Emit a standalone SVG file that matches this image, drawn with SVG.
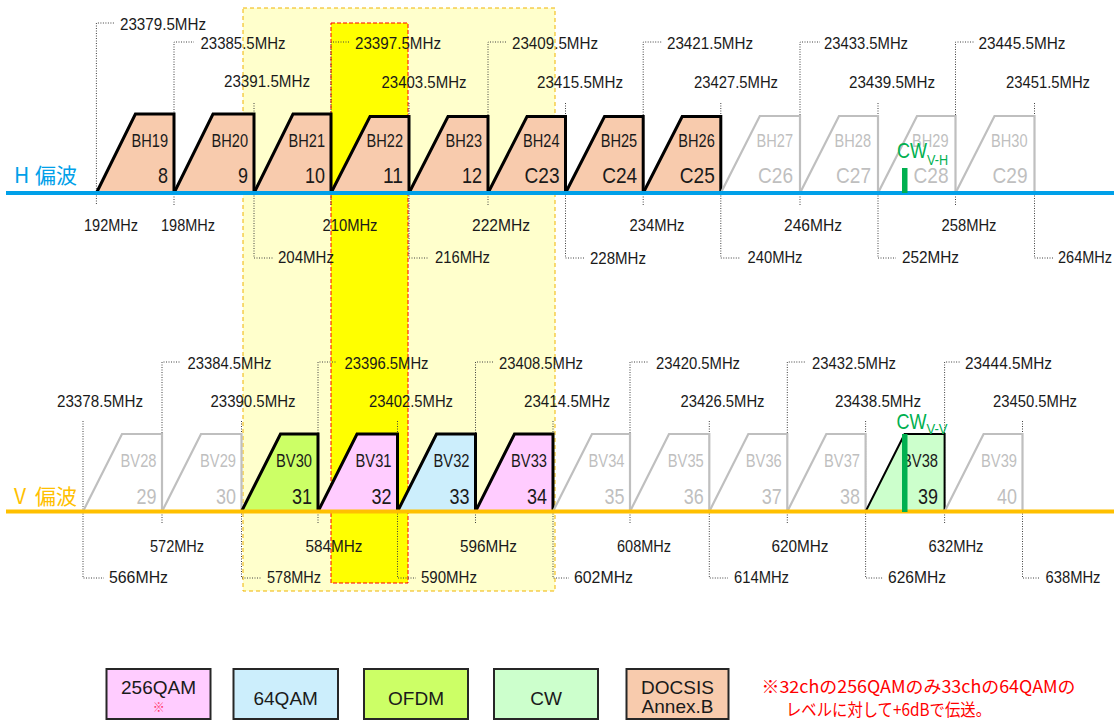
<svg xmlns="http://www.w3.org/2000/svg" width="1120" height="722" viewBox="0 0 1120 722">
<style>
  .n { font-family: "Liberation Sans", Arial, sans-serif; }
  .fq { font-size: 16px; fill: #1a1a1a; }
  .m { text-anchor: middle; }
  .ch { font-size: 18px; fill: #1a1a1a; text-anchor: end; }
  .num { font-size: 22px; fill: #1a1a1a; text-anchor: end; }
  .gy { fill: #bfbfbf; }
  .ld { stroke: #404040; stroke-width: 1; stroke-dasharray: 1 1.5; fill: none; }
  .tb { stroke: #000; stroke-width: 3; stroke-linejoin: miter; }
  .tg { stroke: #bfbfbf; stroke-width: 2.2; fill: #fff; stroke-linejoin: miter; }
  .peach { fill: #f8cbad; }
  .pink { fill: #ffccff; }
  .blue { fill: #cceefc; }
  .ofdm { fill: #ccff66; }
  .cwf { fill: #ccffcc; }
  .cw { font-family: "Liberation Sans", Arial, sans-serif; font-size: 22px; fill: #00b050; }
  .pol { font-family: "Noto Sans CJK JP", sans-serif; font-size: 21px; }
  .lg rect { stroke: #262626; stroke-width: 2; }
  .lt { font-family: "Liberation Sans", Arial, sans-serif; font-size: 19px; fill: #1a1a1a; text-anchor: middle; }
  .note { font-family: "Noto Sans CJK JP", sans-serif; font-size: 17px; fill: #ff0000; }
</style>

<g id="zones">
  <rect x="243" y="8" width="312" height="583" fill="#ffffcc" stroke="#f0b400" stroke-width="1" stroke-dasharray="4 3"/>
  <rect x="331" y="23" width="77" height="560" fill="#ffff00" stroke="#ff0000" stroke-width="1" stroke-dasharray="4 2"/>
</g>

<g id="connectors">
  <path class="ld" d="M96.4 204 V23 H114"/>
  <path class="ld" d="M174 205 V42 H194"/>
  <path class="ld" d="M254 103 V258 H273"/>
  <path class="ld" d="M331 205 V42 H350"/>
  <path class="ld" d="M409 103 V258 H429"/>
  <path class="ld" d="M488 205 V42 H507"/>
  <path class="ld" d="M565.5 103 V258 H585"/>
  <path class="ld" d="M643.2 205 V42 H662"/>
  <path class="ld" d="M720.8 103 V258 H740"/>
  <path class="ld" d="M800 205 V42 H820"/>
  <path class="ld" d="M878 103 V258 H896"/>
  <path class="ld" d="M955.5 205 V42 H974"/>
  <path class="ld" d="M1034.5 103 V258 H1053"/>
  <path class="ld" d="M83 421 V578 H104"/>
  <path class="ld" d="M162 523 V362 H180"/>
  <path class="ld" d="M241.5 421 V578 H262"/>
  <path class="ld" d="M318 523 V362 H337"/>
  <path class="ld" d="M397.5 421 V578 H416"/>
  <path class="ld" d="M475.5 523 V362 H493"/>
  <path class="ld" d="M553 421 V578 H569"/>
  <path class="ld" d="M630 523 V362 H649"/>
  <path class="ld" d="M709.3 421 V578 H728"/>
  <path class="ld" d="M787.3 523 V362 H805"/>
  <path class="ld" d="M865.6 421 V578 H883"/>
  <path class="ld" d="M944.6 523 V362 H960"/>
  <path class="ld" d="M1022.5 421 V578 H1040"/>
</g>

<g id="h-channels" class="n">
  <g id="BH19"><path class="tb peach" d="M96.4 193 L135.4 114 L174 114 L174 193"/><text class="ch" x="168" y="146.5" textLength="36.5" lengthAdjust="spacingAndGlyphs">BH19</text><text class="num" x="168" y="183" textLength="10" lengthAdjust="spacingAndGlyphs">8</text></g>
  <g id="BH20"><path class="tb peach" d="M174 193 L213 114 L254 114 L254 193"/><text class="ch" x="248" y="146.5" textLength="36.5" lengthAdjust="spacingAndGlyphs">BH20</text><text class="num" x="248" y="183" textLength="10" lengthAdjust="spacingAndGlyphs">9</text></g>
  <g id="BH21"><path class="tb peach" d="M254 193 L293 114 L331 114 L331 193"/><text class="ch" x="325" y="146.5" textLength="36.5" lengthAdjust="spacingAndGlyphs">BH21</text><text class="num" x="325" y="183" textLength="20" lengthAdjust="spacingAndGlyphs">10</text></g>
  <g id="BH22"><path class="tb peach" d="M331 193 L370 116.5 L409 116.5 L409 193"/><text class="ch" x="403" y="146.5" textLength="36.5" lengthAdjust="spacingAndGlyphs">BH22</text><text class="num" x="403" y="183" textLength="20" lengthAdjust="spacingAndGlyphs">11</text></g>
  <g id="BH23"><path class="tb peach" d="M409 193 L448 116.5 L488 116.5 L488 193"/><text class="ch" x="482" y="146.5" textLength="36.5" lengthAdjust="spacingAndGlyphs">BH23</text><text class="num" x="482" y="183" textLength="20" lengthAdjust="spacingAndGlyphs">12</text></g>
  <g id="BH24"><path class="tb peach" d="M488 193 L527 116.5 L565.5 116.5 L565.5 193"/><text class="ch" x="559.5" y="146.5" textLength="36.5" lengthAdjust="spacingAndGlyphs">BH24</text><text class="num" x="559.5" y="183" textLength="35" lengthAdjust="spacingAndGlyphs">C23</text></g>
  <g id="BH25"><path class="tb peach" d="M565.5 193 L604.5 116.5 L643.2 116.5 L643.2 193"/><text class="ch" x="637.2" y="146.5" textLength="36.5" lengthAdjust="spacingAndGlyphs">BH25</text><text class="num" x="637.2" y="183" textLength="35" lengthAdjust="spacingAndGlyphs">C24</text></g>
  <g id="BH26"><path class="tb peach" d="M643.2 193 L682.2 116.5 L720.8 116.5 L720.8 193"/><text class="ch" x="714.8" y="146.5" textLength="36.5" lengthAdjust="spacingAndGlyphs">BH26</text><text class="num" x="714.8" y="183" textLength="35" lengthAdjust="spacingAndGlyphs">C25</text></g>
  <g id="BH27"><path class="tg" d="M720.8 193 L759.8 116 L800 116 L800 193"/><text class="ch gy" x="793" y="146.5" textLength="36.5" lengthAdjust="spacingAndGlyphs">BH27</text><text class="num gy" x="793" y="183" textLength="35" lengthAdjust="spacingAndGlyphs">C26</text></g>
  <g id="BH28"><path class="tg" d="M800 193 L839 116 L878 116 L878 193"/><text class="ch gy" x="871" y="146.5" textLength="36.5" lengthAdjust="spacingAndGlyphs">BH28</text><text class="num gy" x="871" y="183" textLength="35" lengthAdjust="spacingAndGlyphs">C27</text></g>
  <g id="BH29"><path class="tg" d="M878 193 L917 116 L955.5 116 L955.5 193"/><text class="ch gy" x="948.5" y="146.5" textLength="36.5" lengthAdjust="spacingAndGlyphs">BH29</text><text class="num gy" x="948.5" y="183" textLength="35" lengthAdjust="spacingAndGlyphs">C28</text></g>
  <g id="BH30"><path class="tg" d="M955.5 193 L994.5 116 L1034.5 116 L1034.5 193"/><text class="ch gy" x="1027.5" y="146.5" textLength="36.5" lengthAdjust="spacingAndGlyphs">BH30</text><text class="num gy" x="1027.5" y="183" textLength="35" lengthAdjust="spacingAndGlyphs">C29</text></g>
</g>

<g id="v-channels" class="n">
  <g id="BV28"><path class="tg" d="M83 511.5 L122 434 L162 434 L162 511.5"/><text class="ch gy" x="156.5" y="466.5" textLength="36" lengthAdjust="spacingAndGlyphs">BV28</text><text class="num gy" x="156.5" y="504" textLength="20" lengthAdjust="spacingAndGlyphs">29</text></g>
  <g id="BV29"><path class="tg" d="M162 511.5 L201 434 L241.5 434 L241.5 511.5"/><text class="ch gy" x="236" y="466.5" textLength="36" lengthAdjust="spacingAndGlyphs">BV29</text><text class="num gy" x="236" y="504" textLength="20" lengthAdjust="spacingAndGlyphs">30</text></g>
  <g id="BV30"><path class="tb ofdm" d="M241.5 511.5 L280.5 434 L318 434 L318 511.5"/><text class="ch" x="312" y="466.5" textLength="36" lengthAdjust="spacingAndGlyphs">BV30</text><text class="num" x="312" y="504" textLength="20" lengthAdjust="spacingAndGlyphs">31</text></g>
  <g id="BV31"><path class="tb pink" d="M318 511.5 L357 434 L397.5 434 L397.5 511.5"/><text class="ch" x="391.5" y="466.5" textLength="36" lengthAdjust="spacingAndGlyphs">BV31</text><text class="num" x="391.5" y="504" textLength="20" lengthAdjust="spacingAndGlyphs">32</text></g>
  <g id="BV32"><path class="tb blue" d="M397.5 511.5 L436.5 434 L475.5 434 L475.5 511.5"/><text class="ch" x="469.5" y="466.5" textLength="36" lengthAdjust="spacingAndGlyphs">BV32</text><text class="num" x="469.5" y="504" textLength="20" lengthAdjust="spacingAndGlyphs">33</text></g>
  <g id="BV33"><path class="tb pink" d="M475.5 511.5 L514.5 434 L553 434 L553 511.5"/><text class="ch" x="547" y="466.5" textLength="36" lengthAdjust="spacingAndGlyphs">BV33</text><text class="num" x="547" y="504" textLength="20" lengthAdjust="spacingAndGlyphs">34</text></g>
  <g id="BV34"><path class="tg" d="M553 511.5 L592 434 L630 434 L630 511.5"/><text class="ch gy" x="624.5" y="466.5" textLength="36" lengthAdjust="spacingAndGlyphs">BV34</text><text class="num gy" x="624.5" y="504" textLength="20" lengthAdjust="spacingAndGlyphs">35</text></g>
  <g id="BV35"><path class="tg" d="M630 511.5 L669 434 L709.3 434 L709.3 511.5"/><text class="ch gy" x="703.8" y="466.5" textLength="36" lengthAdjust="spacingAndGlyphs">BV35</text><text class="num gy" x="703.8" y="504" textLength="20" lengthAdjust="spacingAndGlyphs">36</text></g>
  <g id="BV36"><path class="tg" d="M709.3 511.5 L748.3 434 L787.3 434 L787.3 511.5"/><text class="ch gy" x="781.8" y="466.5" textLength="36" lengthAdjust="spacingAndGlyphs">BV36</text><text class="num gy" x="781.8" y="504" textLength="20" lengthAdjust="spacingAndGlyphs">37</text></g>
  <g id="BV37"><path class="tg" d="M787.3 511.5 L826.3 434 L865.6 434 L865.6 511.5"/><text class="ch gy" x="860" y="466.5" textLength="36" lengthAdjust="spacingAndGlyphs">BV37</text><text class="num gy" x="860" y="504" textLength="20" lengthAdjust="spacingAndGlyphs">38</text></g>
  <g id="BV38"><path class="cwf" stroke="#000" stroke-width="2" d="M865.6 511.5 L904.6 434 L944.6 434 L944.6 511.5"/><text class="ch" x="938" y="466.5" textLength="36" lengthAdjust="spacingAndGlyphs">BV38</text><text class="num" x="938" y="504" textLength="20" lengthAdjust="spacingAndGlyphs">39</text></g>
  <g id="BV39"><path class="tg" d="M944.6 511.5 L983.6 434 L1022.5 434 L1022.5 511.5"/><text class="ch gy" x="1017" y="466.5" textLength="36" lengthAdjust="spacingAndGlyphs">BV39</text><text class="num gy" x="1017" y="504" textLength="20" lengthAdjust="spacingAndGlyphs">40</text></g>
</g>

<g id="h-axis">
  <line x1="6" y1="193" x2="1114" y2="193" stroke="#00a0e9" stroke-width="4"/>
  <text class="pol" x="14 35 56" y="183" fill="#00a0e9">H偏波</text>
</g>
<g id="v-axis">
  <line x1="6" y1="511.5" x2="1114" y2="511.5" stroke="#ffc000" stroke-width="4"/>
  <text class="pol" x="14 35 56" y="504" fill="#ffc000">V偏波</text>
</g>

<g id="cw-h">
  <rect x="902" y="168" width="5.5" height="25" fill="#00b050"/>
  <text class="cw" x="897" y="158"><tspan textLength="30" lengthAdjust="spacingAndGlyphs">CW</tspan><tspan font-size="15" dy="7" textLength="21" lengthAdjust="spacingAndGlyphs">V-H</tspan></text>
</g>
<g id="cw-v">
  <rect x="902" y="434" width="5.5" height="78" fill="#00b050"/>
  <text class="cw" x="896.5" y="429"><tspan textLength="30" lengthAdjust="spacingAndGlyphs">CW</tspan><tspan font-size="15" dy="5" textLength="21" lengthAdjust="spacingAndGlyphs">V-V</tspan></text>
</g>

<g id="h-freq" class="n fq">
  <text x="120" y="30" textLength="86" lengthAdjust="spacingAndGlyphs">23379.5MHz</text>
  <text x="200.5" y="49" textLength="85" lengthAdjust="spacingAndGlyphs">23385.5MHz</text>
  <text class="m" x="267" y="87" textLength="86" lengthAdjust="spacingAndGlyphs">23391.5MHz</text>
  <text x="355" y="49" textLength="86" lengthAdjust="spacingAndGlyphs">23397.5MHz</text>
  <text class="m" x="424" y="88" textLength="85" lengthAdjust="spacingAndGlyphs">23403.5MHz</text>
  <text x="512" y="49" textLength="86" lengthAdjust="spacingAndGlyphs">23409.5MHz</text>
  <text class="m" x="580" y="88" textLength="86" lengthAdjust="spacingAndGlyphs">23415.5MHz</text>
  <text x="667" y="49" textLength="86" lengthAdjust="spacingAndGlyphs">23421.5MHz</text>
  <text class="m" x="736" y="88" textLength="84" lengthAdjust="spacingAndGlyphs">23427.5MHz</text>
  <text x="824" y="49" textLength="84" lengthAdjust="spacingAndGlyphs">23433.5MHz</text>
  <text class="m" x="892" y="88" textLength="86" lengthAdjust="spacingAndGlyphs">23439.5MHz</text>
  <text x="978.5" y="49" textLength="87" lengthAdjust="spacingAndGlyphs">23445.5MHz</text>
  <text class="m" x="1048" y="88" textLength="84" lengthAdjust="spacingAndGlyphs">23451.5MHz</text>

  <text class="m" x="111" y="231" textLength="54" lengthAdjust="spacingAndGlyphs">192MHz</text>
  <text class="m" x="188" y="231" textLength="54" lengthAdjust="spacingAndGlyphs">198MHz</text>
  <text x="278" y="263" textLength="56" lengthAdjust="spacingAndGlyphs">204MHz</text>
  <text class="m" x="350" y="231" textLength="55" lengthAdjust="spacingAndGlyphs">210MHz</text>
  <text x="435" y="263" textLength="55" lengthAdjust="spacingAndGlyphs">216MHz</text>
  <text class="m" x="501" y="231" textLength="58" lengthAdjust="spacingAndGlyphs">222MHz</text>
  <text x="590" y="264" textLength="56" lengthAdjust="spacingAndGlyphs">228MHz</text>
  <text class="m" x="657" y="231" textLength="55" lengthAdjust="spacingAndGlyphs">234MHz</text>
  <text x="747.5" y="263" textLength="55" lengthAdjust="spacingAndGlyphs">240MHz</text>
  <text class="m" x="813" y="231" textLength="58" lengthAdjust="spacingAndGlyphs">246MHz</text>
  <text x="902" y="263" textLength="57" lengthAdjust="spacingAndGlyphs">252MHz</text>
  <text class="m" x="969" y="231" textLength="55" lengthAdjust="spacingAndGlyphs">258MHz</text>
  <text x="1058" y="263" textLength="54" lengthAdjust="spacingAndGlyphs">264MHz</text>
</g>

<g id="v-freq" class="n fq">
  <text class="m" x="100" y="407" textLength="86" lengthAdjust="spacingAndGlyphs">23378.5MHz</text>
  <text x="187.5" y="369" textLength="84" lengthAdjust="spacingAndGlyphs">23384.5MHz</text>
  <text class="m" x="253" y="407" textLength="85" lengthAdjust="spacingAndGlyphs">23390.5MHz</text>
  <text x="344.5" y="369" textLength="84" lengthAdjust="spacingAndGlyphs">23396.5MHz</text>
  <text class="m" x="411" y="407" textLength="84" lengthAdjust="spacingAndGlyphs">23402.5MHz</text>
  <text x="499" y="369" textLength="84" lengthAdjust="spacingAndGlyphs">23408.5MHz</text>
  <text class="m" x="567" y="407" textLength="86" lengthAdjust="spacingAndGlyphs">23414.5MHz</text>
  <text x="656" y="369" textLength="84" lengthAdjust="spacingAndGlyphs">23420.5MHz</text>
  <text class="m" x="722.5" y="407" textLength="84" lengthAdjust="spacingAndGlyphs">23426.5MHz</text>
  <text x="812" y="369" textLength="84" lengthAdjust="spacingAndGlyphs">23432.5MHz</text>
  <text class="m" x="878" y="407" textLength="86" lengthAdjust="spacingAndGlyphs">23438.5MHz</text>
  <text x="965" y="369" textLength="87" lengthAdjust="spacingAndGlyphs">23444.5MHz</text>
  <text class="m" x="1035" y="407" textLength="84" lengthAdjust="spacingAndGlyphs">23450.5MHz</text>

  <text x="109" y="583" textLength="59" lengthAdjust="spacingAndGlyphs">566MHz</text>
  <text class="m" x="177" y="552" textLength="54" lengthAdjust="spacingAndGlyphs">572MHz</text>
  <text x="267" y="583" textLength="54" lengthAdjust="spacingAndGlyphs">578MHz</text>
  <text class="m" x="334" y="552" textLength="57" lengthAdjust="spacingAndGlyphs">584MHz</text>
  <text x="421" y="583" textLength="56" lengthAdjust="spacingAndGlyphs">590MHz</text>
  <text class="m" x="488.5" y="552" textLength="57" lengthAdjust="spacingAndGlyphs">596MHz</text>
  <text x="574" y="583" textLength="59" lengthAdjust="spacingAndGlyphs">602MHz</text>
  <text class="m" x="644" y="552" textLength="54" lengthAdjust="spacingAndGlyphs">608MHz</text>
  <text x="734" y="583" textLength="55" lengthAdjust="spacingAndGlyphs">614MHz</text>
  <text class="m" x="800" y="552" textLength="57" lengthAdjust="spacingAndGlyphs">620MHz</text>
  <text x="888" y="583" textLength="58" lengthAdjust="spacingAndGlyphs">626MHz</text>
  <text class="m" x="956" y="552" textLength="55" lengthAdjust="spacingAndGlyphs">632MHz</text>
  <text x="1045.5" y="583" textLength="55" lengthAdjust="spacingAndGlyphs">638MHz</text>
</g>

<g id="legend" class="lg">
  <g id="lg-256qam"><rect x="106.5" y="669" width="104" height="50" class="pink"/><text class="lt" x="158.5" y="693.5">256QAM</text><text x="158.7" y="712" font-family="Noto Sans CJK JP, sans-serif" font-size="12" fill="#ff3366" text-anchor="middle">※</text></g>
  <g id="lg-64qam"><rect x="233.5" y="669" width="104.5" height="50" class="blue"/><text class="lt" x="285.7" y="704.5">64QAM</text></g>
  <g id="lg-ofdm"><rect x="364" y="669" width="104" height="50" class="ofdm"/><text class="lt" x="416" y="704.5">OFDM</text></g>
  <g id="lg-cw"><rect x="494" y="669" width="104" height="50" class="cwf"/><text class="lt" x="546" y="704.5">CW</text></g>
  <g id="lg-docsis"><rect x="626.5" y="669" width="102" height="50" class="peach"/><text class="lt" x="677.5" y="693.5">DOCSIS</text><text class="lt" x="677.5" y="713" font-size="14">Annex.B</text></g>
</g>
<g id="note">
  <text class="note" x="761.5" y="693" textLength="314" lengthAdjust="spacingAndGlyphs">※32chの256QAMのみ33chの64QAMの</text>
  <text class="note" x="786" y="716" textLength="205" lengthAdjust="spacingAndGlyphs">レベルに対して+6dBで伝送。</text>
</g>
</svg>
